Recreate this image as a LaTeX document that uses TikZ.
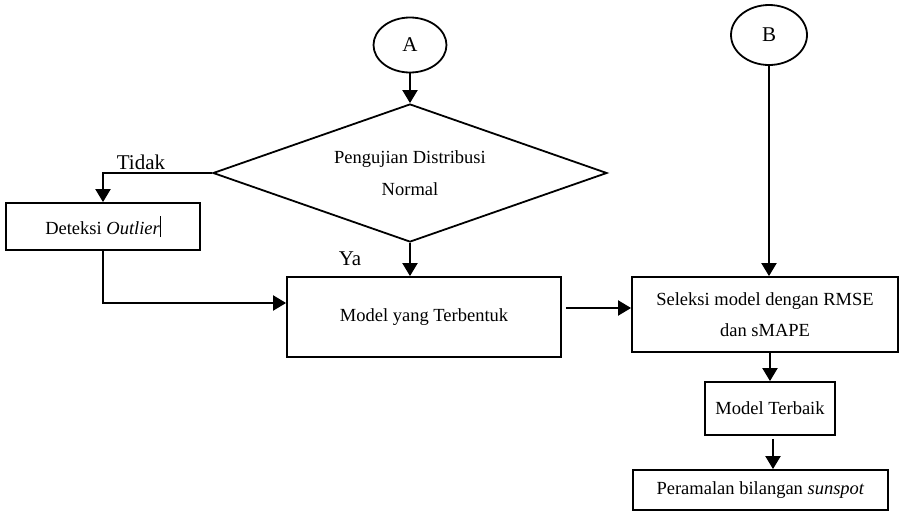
\documentclass[tikz,border=0pt]{standalone}
\usepackage{fontspec}
\setmainfont{Liberation Serif}
\usetikzlibrary{shapes.geometric,arrows.meta}

\tikzset{
	kotak/.style={draw,rectangle,line width=1.8pt,inner sep=0pt,align=center,font=\fontsize{18.5}{31}\selectfont},
	konektor/.style={draw,ellipse,line width=1.8pt,inner sep=0pt,font=\fontsize{21}{25}\selectfont},
	keterangan/.style={inner sep=0pt,font=\fontsize{21}{25}\selectfont},
	panah/.style={line width=2pt,-{Triangle[length=13pt,width=15pt]}}
}

\begin{document}
\begin{tikzpicture}[x=1pt,y=-1pt]
	\useasboundingbox (0,0) rectangle (899,512);
	%KONEKTOR
	\node[konektor,minimum width=73pt,minimum height=55pt] (A) at (410,45) {A};
	\node[konektor,minimum width=76pt,minimum height=60pt] (B) at (769,35) {B};
	%
	\node[draw,diamond,aspect=2.85,line width=1.8pt,inner sep=0pt,minimum width=394pt,minimum height=138pt,
		align=center,font=\fontsize{18.5}{32}\selectfont] (uji) at (410,173) {Pengujian Distribusi\\Normal};
		\node[keterangan] (tidak) at (141,162) {Tidak};
		\node[keterangan] (ya) at (350,259) {Ya};
	%
	\node[kotak,minimum width=194pt,minimum height=47pt] (deteksi) at (103,226.5) {Deteksi \textit{Outlier}\rule[-3pt]{0.8pt}{21pt}};
	\node[kotak,minimum width=274pt,minimum height=80pt] (model) at (424,317) {Model yang Terbentuk};
	%
	\node[kotak,minimum width=266pt,minimum height=75pt] (seleksi) at (765,314.5) {Seleksi model dengan RMSE\\dan sMAPE};
	\node[kotak,minimum width=130pt,minimum height=53pt] (terbaik) at (770,408.5) {Model Terbaik};
	\node[kotak,minimum width=255pt,minimum height=40pt] (ramal) at (760.5,490) {Peramalan bilangan \textit{sunspot}};

	%PANAH
	\draw[panah] (A.south) -- (uji.north);
	\draw[panah] (uji.west) -| (deteksi.north);
	\draw[panah] (uji.south) -- (uji.south |- model.north);
	\draw[panah] (deteksi.south) |- ([yshift=14pt]model.west);
	\draw[panah,shorten <=4pt] ([yshift=9pt]model.east) -- ([yshift=9pt]model.east -| seleksi.west);
	\draw[panah] (B.south) -- (B.south |- seleksi.north);
	\draw[panah] (terbaik.north |- seleksi.south) -- (terbaik.north);
	\draw[panah,shorten <=3pt] ([xshift=3pt]terbaik.south) -- ([xshift=3pt]terbaik.south |- ramal.north);
\end{tikzpicture}
\end{document}
